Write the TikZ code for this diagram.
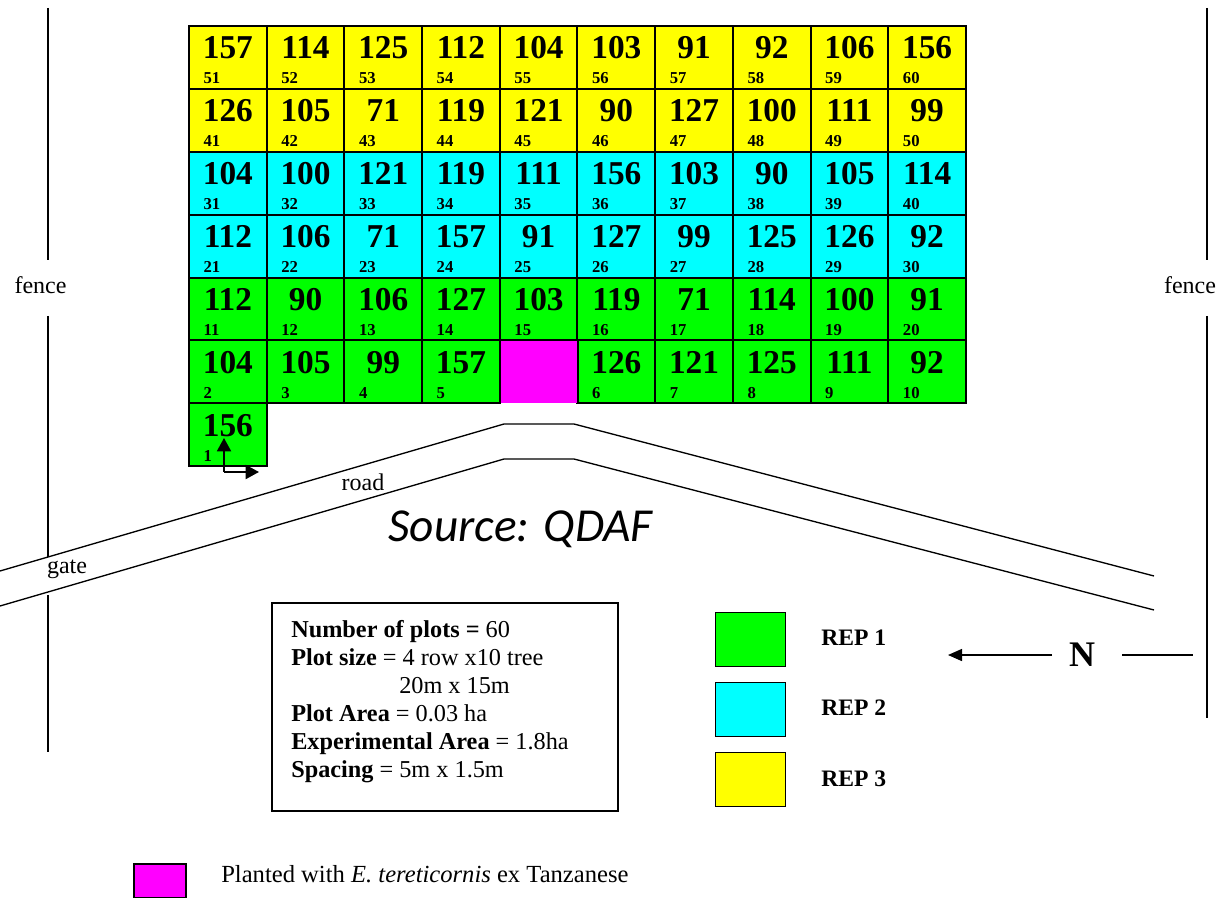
\documentclass[tikz,border=0pt]{standalone}
\usepackage{fontspec}
\setmainfont{Liberation Serif}
\newfontfamily\srcfont{Carlito}
\usetikzlibrary{arrows.meta}
\definecolor{repgreen}{RGB}{0,255,0}
\definecolor{repcyan}{RGB}{0,255,255}
\definecolor{repyellow}{RGB}{255,255,0}
\definecolor{plantmag}{RGB}{255,0,255}
\tikzset{
  plotcell/.style={draw=black,line width=1.5pt,minimum width=58.3pt,minimum height=47.2pt,inner sep=0pt,outer sep=0pt},
  bignum/.style={font=\fontsize{25}{25}\selectfont\bfseries,inner sep=0pt,anchor=base},
  smallnum/.style={font=\fontsize{12.5}{12.5}\selectfont\bfseries,inner sep=0pt,anchor=base west},
  plain/.style={font=\fontsize{18}{18}\selectfont,inner sep=0pt,anchor=base},
  thinline/.style={line width=1pt,black},
  legendbox/.style={draw=black,line width=0.8pt,minimum width=53pt,minimum height=40pt,inner sep=0pt,outer sep=0pt},
  reptext/.style={font=\fontsize{17.7}{17.7}\selectfont\bfseries,inner sep=0pt,anchor=base west},
  arrowline/.style={line width=1.4pt,-{Triangle[length=10pt,width=10.5pt]}}
}
% #1 column(0-9) #2 row top y #3 colour #4 big #5 small
\newcommand{\plotat}[5]{%
  \pgfmathsetmacro{\cx}{189+77.7*#1+38.85}
  \node[plotcell,fill=#3] (p#5) at (\cx,#2+31.45) {};
  \node[bignum] (b#5) at (\cx,#2+33) {#4};
  \node[smallnum] (s#5) at (\cx-24.5,#2+58) {#5};
}
\begin{document}
\begin{tikzpicture}[x=0.75pt,y=-0.75pt]
\useasboundingbox (0,0) rectangle (1217,898);
% yellow
\foreach \c/\b/\s in {0/157/51,1/114/52,2/125/53,3/112/54,4/104/55,5/103/56,6/91/57,7/92/58,8/106/59,9/156/60}{\plotat{\c}{26}{repyellow}{\b}{\s}}
\foreach \c/\b/\s in {0/126/41,1/105/42,2/71/43,3/119/44,4/121/45,5/90/46,6/127/47,7/100/48,8/111/49,9/99/50}{\plotat{\c}{88.9}{repyellow}{\b}{\s}}
% cyan
\foreach \c/\b/\s in {0/104/31,1/100/32,2/121/33,3/119/34,4/111/35,5/156/36,6/103/37,7/90/38,8/105/39,9/114/40}{\plotat{\c}{151.8}{repcyan}{\b}{\s}}
\foreach \c/\b/\s in {0/112/21,1/106/22,2/71/23,3/157/24,4/91/25,5/127/26,6/99/27,7/125/28,8/126/29,9/92/30}{\plotat{\c}{214.7}{repcyan}{\b}{\s}}
% green
\foreach \c/\b/\s in {0/112/11,1/90/12,2/106/13,3/127/14,4/103/15,5/119/16,6/71/17,7/114/18,8/100/19,9/91/20}{\plotat{\c}{277.6}{repgreen}{\b}{\s}}
\foreach \c/\b/\s in {0/104/2,1/105/3,2/99/4,3/157/5,5/126/6,6/121/7,7/125/8,8/111/9,9/92/10}{\plotat{\c}{340.5}{repgreen}{\b}{\s}}
% planted plot: top and sides outlined, open bottom edge
\node[plotcell,draw=none,fill=plantmag] (tanz) at (538.65,371.95) {};
\draw[line width=1.5pt] (tanz.south west) -- (tanz.north west) -- (tanz.north east) -- (tanz.south east);
\plotat{0}{403.4}{repgreen}{156}{1}
% start arrows
\coordinate (st) at (224,472);
\coordinate (stu) at (224,438);
\coordinate (str) at (259,472);
\draw[arrowline] (st) -- (stu);
\draw[arrowline] (st) -- (str);
% road
\coordinate (ra) at (0,571); \coordinate (rb) at (504,424); \coordinate (rc) at (574,424); \coordinate (rd) at (1154,576);
\coordinate (re) at (0,606); \coordinate (rf) at (504,459); \coordinate (rg) at (574,459); \coordinate (rh) at (1154,610);
\draw[thinline] (ra) -- (rb) -- (rc) -- (rd);
\draw[thinline] (re) -- (rf) -- (rg) -- (rh);
\node[plain] (road) at (363,490) {road};
\node[plain] (gate) at (67,573) {gate};
% fences
\coordinate (fa) at (48,8); \coordinate (fb) at (48,260); \coordinate (fc) at (48,316); \coordinate (fd) at (48,557);
\coordinate (fe) at (48,595); \coordinate (ff) at (48,752);
\draw[thinline] (fa) -- (fb) (fc) -- (fd) (fe) -- (ff);
\coordinate (ga) at (1207,8); \coordinate (gb) at (1207,260); \coordinate (gc) at (1207,316); \coordinate (gd) at (1207,718);
\draw[thinline] (ga) -- (gb) (gc) -- (gd);
\node[plain] (fl) at (40.5,294) {fence};
\node[plain] (fr) at (1190,294) {fence};
% source
\node[font=\srcfont\itshape\fontsize{35.5}{35.5}\selectfont,inner sep=0pt,anchor=base] (src) at (520.5,541) {Source: QDAF};
% info box
\node[draw=black,line width=0.8pt,minimum width=259.5pt,minimum height=156pt,inner sep=0pt,outer sep=0pt] (info) at (445,707) {};
\node[font=\fontsize{18.2}{21}\selectfont,inner sep=0pt,anchor=north west,align=left] (infot) at (291,620) {\textbf{Number of plots =} 60\\\textbf{Plot size} = 4 row x10 tree\\\hspace*{81pt}20m x 15m\\\textbf{Plot Area} = 0.03 ha\\\textbf{Experimental Area} = 1.8ha\\\textbf{Spacing} = 5m x 1.5m};
% legend
\node[legendbox,fill=repgreen] (l1) at (750.5,639.5) {};
\node[legendbox,fill=repcyan] (l2) at (750.5,709.5) {};
\node[legendbox,fill=repyellow] (l3) at (750.5,779.5) {};
\node[reptext] (t1) at (821,645) {REP 1};
\node[reptext] (t2) at (821,715) {REP 2};
\node[reptext] (t3) at (821,786) {REP 3};
% north
\node[font=\fontsize{27}{27}\selectfont\bfseries,inner sep=0pt,anchor=base] (north) at (1082,666) {N};
\coordinate (na) at (1052,655); \coordinate (nb) at (948,655); \coordinate (nc) at (1122,655); \coordinate (nd) at (1193,655);
\draw[line width=1.1pt,-{Triangle[length=10.5pt,width=9pt]}] (na) -- (nb);
\draw[line width=1.1pt] (nc) -- (nd);
% planted key
\node[legendbox,fill=plantmag,minimum width=39pt,minimum height=25.5pt] (pk) at (160,881) {};
\node[font=\fontsize{18.45}{18.45}\selectfont,inner sep=0pt,anchor=base west] (pt) at (221,882) {Planted with \textit{E. tereticornis} ex Tanzanese};
\end{tikzpicture}
\end{document}
